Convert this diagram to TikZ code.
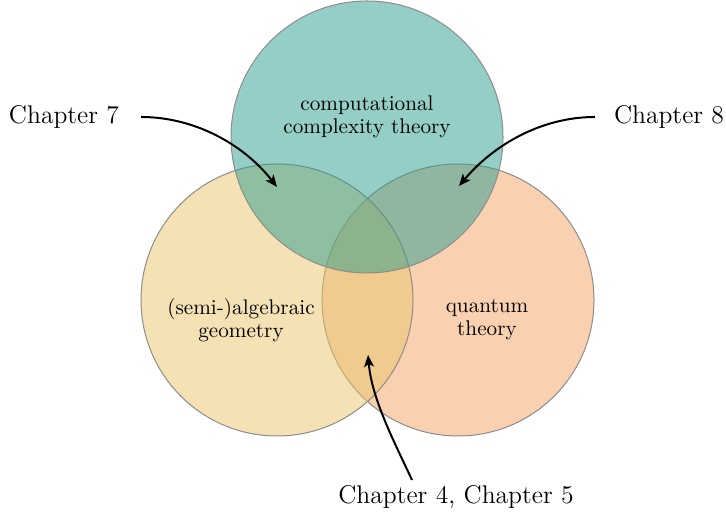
\documentclass[tikz,border=0pt]{standalone}
\usetikzlibrary{arrows.meta}
\definecolor{cteal}{HTML}{2A9D8F}
\definecolor{cyel}{HTML}{E9C46A}
\definecolor{corg}{HTML}{F4A261}
\begin{document}
\begin{tikzpicture}[x=0.5pt,y=0.5pt,
  setc/.style={draw=black!45, line width=0.5pt, fill opacity=0.5},
  lab/.style={align=center, inner sep=0pt, font=\fontsize{10.6}{11.5}\selectfont},
  chap/.style={inner sep=0pt, font=\fontsize{12.8}{15}\selectfont},
  arr/.style={-{Stealth[length=6pt,width=5pt,inset=1.5pt]}, line width=1pt}]
\useasboundingbox (0,0) rectangle (726,517);
% circles
\filldraw[setc, fill=corg] (458,217) circle[radius=136];
\filldraw[setc, fill=cyel] (277,217) circle[radius=136];
\filldraw[setc, fill=cteal] (367,380) circle[radius=136];
% circle labels
\node[lab] (cct) at (367,400) {computational\\complexity theory};
\node[lab] (sag) at (241,197) {(semi-)algebraic\\geometry};
\node[lab] (qt) at (487,197) {quantum\\theory};
% chapter labels
\node[chap, outer sep=11pt] (c7) at (64,400) {Chapter 7};
\node[chap, outer sep=9.5pt] (c8) at (669,400) {Chapter 8};
\node[chap] (c45) at (456,20) {Chapter 4, Chapter 5};
% arrow ends
\coordinate (t7) at (277,330);
\coordinate (t8) at (459,331);
\coordinate (t45) at (368,162);
\coordinate (s45) at (412,37);
\draw[arr] (c7.east) to[out=0, in=128, looseness=0.9] (t7);
\draw[arr] (c8.west) to[out=180, in=50, looseness=0.9] (t8);
\draw[arr] (s45) to[out=115, in=275, looseness=0.85] (t45);
\end{tikzpicture}
\end{document}
